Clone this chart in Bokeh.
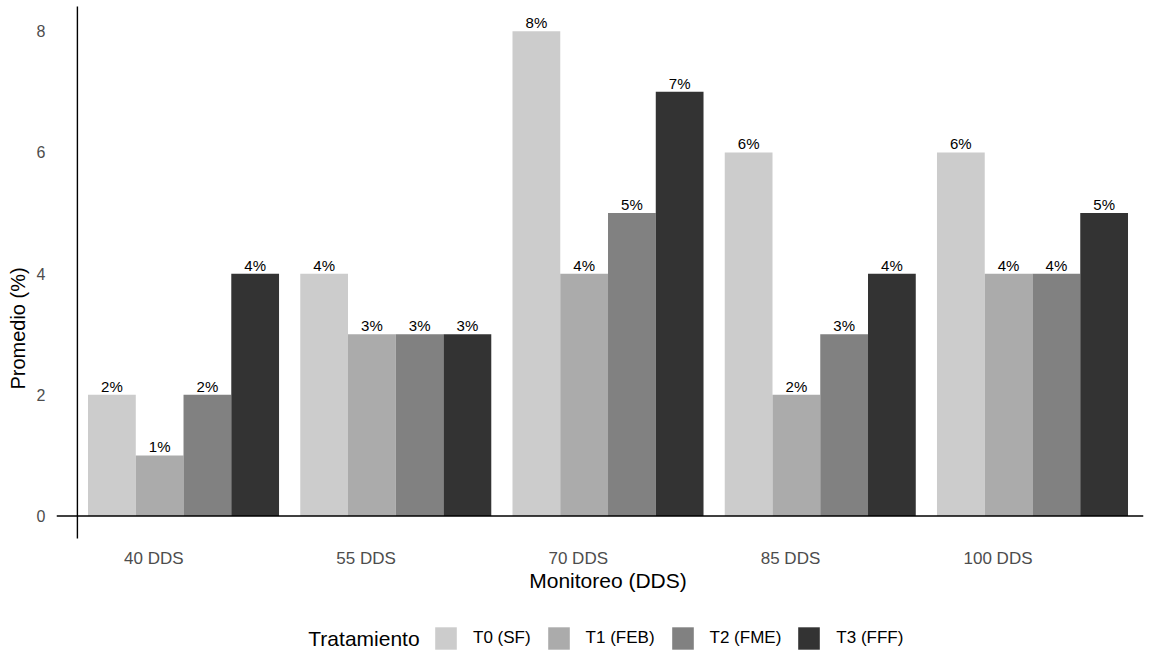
from bokeh.plotting import figure
from bokeh.models import (ColumnDataSource, Range1d, Span, Legend, LegendItem,
                          FixedTicker, Label)
from bokeh.transform import dodge
from bokeh.core.properties import value
from bokeh.embed import file_html
from bokeh.resources import INLINE

# ---- data ----
grupos = ["40 DDS", "55 DDS", "70 DDS", "85 DDS", "100 DDS"]
tratamientos = ["T0 (SF)", "T1 (FEB)", "T2 (FME)", "T3 (FFF)"]
t0 = [2, 4, 8, 6, 6]
t1 = [1, 3, 4, 2, 4]
t2 = [2, 3, 5, 3, 4]
t3 = [4, 3, 7, 4, 5]
series = [t0, t1, t2, t3]
colores = ["#CCCCCC", "#ABABAB", "#818181", "#333333"]
y_ticks = [0, 2, 4, 6, 8]

FONT = "Liberation Sans"
W, H = 1157, 656

# category index positions (centre of each group slot)
gx = [i + 0.5 for i in range(len(grupos))]

p = figure(width=W, height=H, x_range=Range1d(-0.0985, 5.023),
           y_range=Range1d(-2.318, 8.507),
           output_backend="svg", toolbar_location=None, x_axis_location=None,
           min_border_left=56, min_border_right=14, min_border_top=0,
           min_border_bottom=0)
p.outline_line_color = None
p.grid.visible = False
p.background_fill_color = "white"

ya = p.yaxis[0]
ya.ticker = FixedTicker(ticks=y_ticks)
ya.axis_line_color = None
ya.major_tick_line_color = None
ya.minor_tick_line_color = None
ya.major_tick_out = 0
ya.major_tick_in = 0
ya.major_label_text_font = FONT
ya.major_label_text_font_size = "16px"
ya.major_label_text_color = "#4D4D4D"
ya.major_label_standoff = 11
ya.axis_label = "Promedio (%)"
ya.axis_label_text_font = FONT
ya.axis_label_text_font_size = "20px"
ya.axis_label_text_font_style = "normal"
ya.axis_label_text_color = "black"
ya.axis_label_standoff = 5

# axis lines
p.add_layout(Span(location=0, dimension="width", line_color="black", line_width=1.4))
p.segment(x0=[0], y0=[-0.37], x1=[0], y1=[8.41], line_color="black", line_width=1.4)

n = len(tratamientos)
bw = 0.9 / n
offsets = [(-0.45 + bw / 2 + i * bw) for i in range(n)]

items = []
for i, (nombre, vals, col) in enumerate(zip(tratamientos, series, colores)):
    src = ColumnDataSource(dict(gx=gx, grupo=grupos, valor=vals,
                                etiqueta=[f"{v}%" for v in vals]))
    r = p.vbar(x=dodge("gx", offsets[i]), top="valor", width=bw,
               source=src, fill_color=col, line_color=None)
    p.text(x=dodge("gx", offsets[i]), y="valor", text="etiqueta",
           source=src, text_align="center", text_baseline="bottom",
           text_font=value(FONT), text_font_size="15px", text_color="black")
    items.append(LegendItem(label=nombre, renderers=[r]))

# category labels (right-aligned at group centre)
lab_src = ColumnDataSource(dict(gx=gx, grupo=grupos))
p.text(x="gx", y=-0.70, text="grupo", source=lab_src, text_align="right",
       text_baseline="middle", text_font=value(FONT), text_font_size="17px",
       text_color="#4D4D4D")

# x axis title (centred under the middle group)
p.text(x=[gx[2]], y=[-1.064], text=["Monitoreo (DDS)"], text_align="center",
       text_baseline="middle", text_font=value(FONT), text_font_size="21px",
       text_color="black")

legend = Legend(items=items, orientation="horizontal", location=(376, 4),
                label_text_font=FONT, label_text_font_size="17px",
                label_text_color="black",
                glyph_width=27, glyph_height=28, label_standoff=14, spacing=14,
                padding=0, margin=0, border_line_color=None,
                background_fill_alpha=0)
p.add_layout(legend)

p.add_layout(Label(x=1.088, y=-2.02, text="Tratamiento", text_font=FONT,
                   text_font_size="21px", text_baseline="middle",
                   text_align="left", text_color="black"))

open("out.html", "w").write(file_html(p, INLINE))
